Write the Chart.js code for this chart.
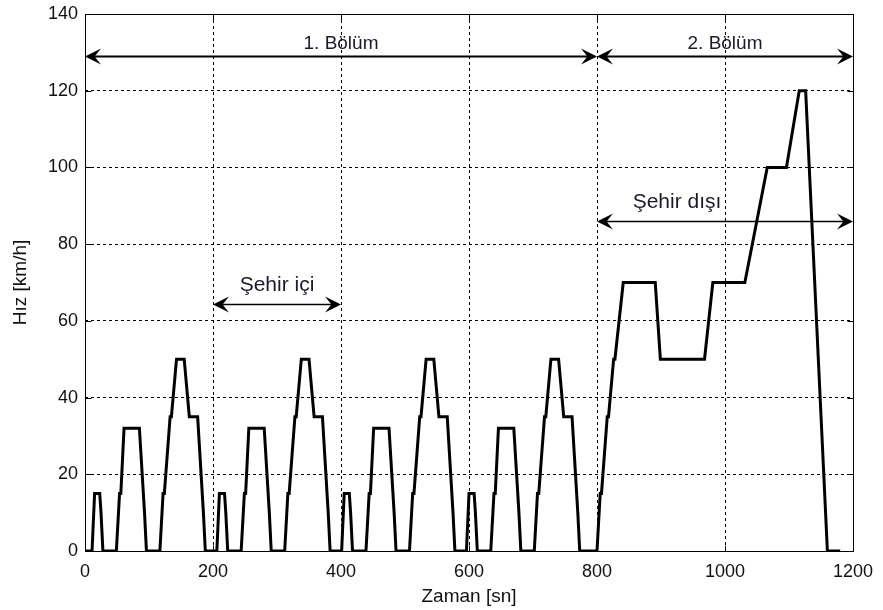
<!DOCTYPE html>
<html>
<head>
<meta charset="utf-8">
<script src="https://cdn.jsdelivr.net/npm/chart.js@4/dist/chart.umd.min.js"></script>
<style>
  html, body { margin: 0; padding: 0; background: #fff; }
  #wrap { width: 883px; height: 610px; }
</style>
</head>
<body>
<div id="wrap"><canvas id="myChart"></canvas></div>
<script>
// ECE-15 city cycle breakpoints (sn, km/h), repeated four times
var eceTime  = [0, 11, 15, 23, 25, 28, 49, 54, 56, 61, 85, 93, 96, 117, 122, 124, 133, 135, 143, 155, 163, 176, 185, 188, 195];
var eceSpeed = [0, 0, 15, 15, 10, 0, 0, 15, 15, 32, 32, 10, 0, 0, 15, 15, 35, 35, 50, 50, 35, 35, 10, 0, 0];
var eceStarts = [0, 195, 390, 585];

// EUDC extra-urban part breakpoints
var eudcStart = 780;
var eudcTime  = [0, 20, 25, 27, 36, 38, 46, 48, 61, 111, 119, 188, 201, 251, 286, 316, 336, 346, 380, 400];
var eudcSpeed = [0, 0, 15, 15, 35, 35, 50, 50, 70, 70, 50, 50, 70, 70, 100, 100, 120, 120, 0, 0];

// double arrows with labels
var arrowText  = ['1. Bölüm', '2. Bölüm', 'Şehir içi', 'Şehir dışı'];
var arrowFrom  = [0, 800, 200, 800];
var arrowTo    = [800, 1200, 400, 1200];
var arrowY     = [129, 129, 64.5, 86];
var arrowTextX = [400, 1000, 300, 925];
var arrowTextY = [132.2, 132.2, 69.3, 91];

var xTicks = [0, 200, 400, 600, 800, 1000, 1200];
var yTicks = [0, 20, 40, 60, 80, 100, 120, 140];

var points = [];
eceStarts.forEach(function(s, k) {
    eceTime.forEach(function(t, i) {
        if (k > 0 && i == 0) return;
        points.push({x: s + t, y: eceSpeed[i]});
    });
});
eudcTime.forEach(function(t, i) {
    if (i == 0) return;
    points.push({x: eudcStart + t, y: eudcSpeed[i]});
});

var FONT = "'Liberation Sans', Arial, sans-serif";

function arrowHead(ctx, tipX, yy, dir, len, half) {
    ctx.beginPath();
    ctx.moveTo(tipX, yy);
    ctx.lineTo(tipX - dir * len, yy - half);
    ctx.lineTo(tipX - dir * len * 0.6, yy);
    ctx.lineTo(tipX - dir * len, yy + half);
    ctx.closePath();
    ctx.fill();
}

var annotate = {
    id: 'annotate',
    afterDatasetsDraw: function(chart) {
        var ctx = chart.ctx, a = chart.chartArea;
        var xs = chart.scales.x, ys = chart.scales.y;
        var L = Math.round(a.left) + 0.5, T = Math.round(a.top) + 0.5;
        var R = L + Math.round(a.width), B = T + Math.round(a.height);
        ctx.save();
        ctx.setLineDash([]);
        ctx.strokeStyle = '#000';
        ctx.lineWidth = 1;
        ctx.strokeRect(L, T, R - L, B - T);

        // short inward tick marks on all four sides
        ctx.beginPath();
        xTicks.forEach(function(v) {
            var px = Math.round(xs.getPixelForValue(v)) + 0.5;
            ctx.moveTo(px, B); ctx.lineTo(px, B - 6);
            ctx.moveTo(px, T); ctx.lineTo(px, T + 6);
        });
        yTicks.forEach(function(v) {
            var py = Math.round(ys.getPixelForValue(v)) + 0.5;
            ctx.moveTo(L, py); ctx.lineTo(L + 6, py);
            ctx.moveTo(R, py); ctx.lineTo(R - 6, py);
        });
        ctx.stroke();

        ctx.fillStyle = '#000';
        for (var i = 0; i < arrowText.length; i++) {
            var x1 = xs.getPixelForValue(arrowFrom[i]);
            var x2 = xs.getPixelForValue(arrowTo[i]);
            var yy = Math.round(ys.getPixelForValue(arrowY[i])) + 0.5;
            var big = i < 2;
            ctx.lineWidth = big ? 2 : 1.5;
            ctx.beginPath();
            ctx.moveTo(x1 + 6, yy);
            ctx.lineTo(x2 - 6, yy);
            ctx.stroke();
            arrowHead(ctx, x1, yy, -1, 16, 8);
            arrowHead(ctx, x2, yy, 1, 16, 8);

            ctx.font = (big ? 19 : 21) + 'px ' + FONT;
            ctx.textAlign = 'center';
            ctx.textBaseline = 'middle';
            ctx.fillStyle = '#1a1a2a';
            ctx.fillText(arrowText[i], xs.getPixelForValue(arrowTextX[i]), ys.getPixelForValue(arrowTextY[i]));
            ctx.fillStyle = '#000';
        }
        ctx.restore();
    }
};

var config = {
    type: 'line',
    data: {
        datasets: [{
            data: points,
            borderColor: '#000',
            borderWidth: 3,
            pointRadius: 0,
            tension: 0,
            fill: false
        }]
    },
    options: {
        responsive: true,
        maintainAspectRatio: false,
        animation: false,
        layout: { padding: { left: 0, right: 30, top: 14, bottom: 0 } },
        plugins: { legend: { display: false }, tooltip: { enabled: false } },
        scales: {
            x: {
                type: 'linear',
                min: 0,
                max: 1200,
                afterBuildTicks: function(s) { s.ticks = xTicks.map(function(v) { return {value: v}; }); },
                afterFit: function(s) { s.height = 59; s.paddingLeft = 0; s.paddingRight = 0; },
                grid: { color: '#000', lineWidth: 1, drawTicks: false },
                border: { display: false, dash: [3, 3] },
                ticks: {
                    color: '#111', padding: 10, maxRotation: 0,
                    font: { family: FONT, size: 18 },
                    callback: function(v) { return String(v); }
                },
                title: { display: true, text: 'Zaman [sn]', color: '#111', padding: { top: 4, bottom: 2 }, font: { family: FONT, size: 19 } }
            },
            y: {
                min: 0,
                max: 140,
                afterBuildTicks: function(s) { s.ticks = yTicks.map(function(v) { return {value: v}; }); },
                afterFit: function(s) { s.width = 85; s.paddingTop = 0; s.paddingBottom = 0; },
                grid: { color: '#000', lineWidth: 1, drawTicks: false },
                border: { display: false, dash: [3, 3] },
                ticks: { color: '#111', padding: 7, font: { family: FONT, size: 18 } },
                title: { display: true, text: 'Hız [km/h]', color: '#111', padding: { top: 9, bottom: 0 }, font: { family: FONT, size: 19 } }
            }
        }
    },
    plugins: [annotate]
};
var ctx = document.getElementById('myChart').getContext('2d');
var chart = new Chart(ctx, config);
</script>
</body>
</html>
